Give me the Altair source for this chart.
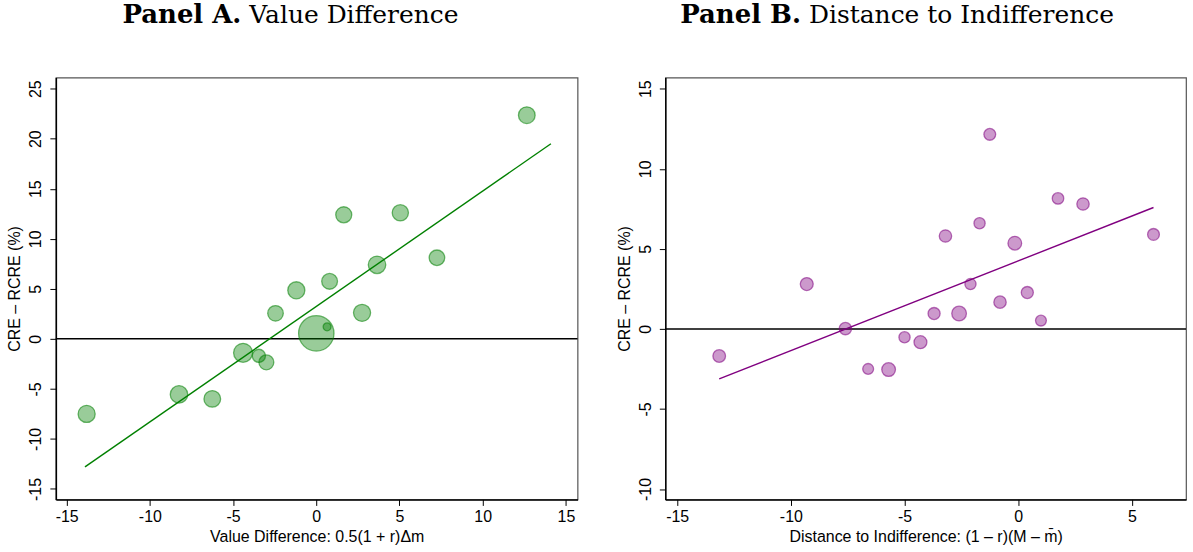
import altair as alt
import pandas as pd

# ---------------- Panel A: Value Difference ----------------
a_x = [-13.8, -8.25, -6.25, -4.4, -3.45, -3.0, -2.45, -1.2, 0.0, 0.65, 0.8, 1.65, 2.75, 3.65, 5.05, 7.25, 12.65]
a_y = [-7.5, -5.55, -6.0, -1.4, -1.7, -2.35, 2.55, 4.85, 0.55, 1.2, 5.75, 12.4, 2.6, 7.4, 12.6, 8.1, 22.35]
a_w = [42, 44, 40, 52, 25, 32, 35, 42, 180, 9, 36, 37, 42, 44, 38, 35, 40]
a_fit_x = [-13.9, 14.1]
a_fit_y = [-12.8, 19.5]
a_xticks = [-15, -10, -5, 0, 5, 10, 15]
a_yticks = [-15, -10, -5, 0, 5, 10, 15, 20, 25]

# ---------------- Panel B: Distance to Indifference ----------------
b_x = [-1.25, 1.75, 2.85, -1.7, -3.2, -0.15, 5.95, -9.3, -2.1, 0.4, -0.8, -3.7, -2.6, 1.0, -7.6, -5.0, -4.3, -13.15, -6.6, -5.7]
b_y = [12.15, 8.15, 7.8, 6.6, 5.8, 5.35, 5.9, 2.8, 2.8, 2.27, 1.67, 0.96, 0.96, 0.52, 0.02, -0.52, -0.83, -1.69, -2.5, -2.54]
b_w = [20, 19, 22, 18, 22, 27, 20, 24, 18, 21, 22, 21, 31, 17, 22, 18, 24, 23, 17, 27]
b_fit_x = [-13.15, 5.95]
b_fit_y = [-3.12, 7.58]
b_xticks = [-15, -10, -5, 0, 5]
b_yticks = [-10, -5, 0, 5, 10, 15]

Y_TITLE = "CRE \u2013 RCRE (%)"
LABEL_EXPR = "'' + datum.value"
AX = dict(grid=False, domainColor="black", domainWidth=1.5, tickColor="black",
          tickSize=6, tickWidth=1, labelFont="Liberation Sans", labelFontSize=16,
          labelColor="black", titleFont="Liberation Sans", titleFontSize=16,
          titleFontWeight="normal", titleColor="black", labelFlush=False)


def panel(xs, ys, ws, fx, fy, color, fill, xdom, ydom, xticks, yticks, xtitle,
          bold, rest, bold_right, rest_left, width, height):
    pts = pd.DataFrame({"x": xs, "y": ys, "w": ws})
    fit = pd.DataFrame({"x": fx, "y": fy})
    xsc = alt.Scale(domain=xdom, nice=False, zero=False)
    ysc = alt.Scale(domain=ydom, nice=False, zero=False)
    xax = alt.Axis(values=xticks, title=xtitle, labelExpr=LABEL_EXPR,
                   labelPadding=3, titlePadding=4, **AX)
    yax = alt.Axis(values=yticks, title=Y_TITLE, labelExpr=LABEL_EXPR,
                   labelAngle=270, labelPadding=6, titlePadding=5, **AX)
    X = lambda: alt.X("x:Q", scale=xsc, axis=xax)
    Y = lambda: alt.Y("y:Q", scale=ysc, axis=yax)

    zero = alt.Chart(pd.DataFrame({"y": [0]})).mark_rule(
        color="black", strokeWidth=1.5).encode(y=Y())
    dots = alt.Chart(pts).mark_circle(
        fill=fill, stroke=color, fillOpacity=0.4, strokeOpacity=0.55,
        strokeWidth=1.3, opacity=1).encode(
        x=X(), y=Y(),
        size=alt.Size("w:Q", scale=alt.Scale(domain=[0, 180], range=[0, 1260]), legend=None))
    line = alt.Chart(fit).mark_line(color=color, strokeWidth=1.4).encode(x=X(), y=Y())
    t1 = alt.Chart(pd.DataFrame({"t": [bold]})).mark_text(
        font="DejaVu Serif", fontSize=26, fontWeight="bold", align="right",
        baseline="alphabetic", color="black").encode(
        x=alt.value(bold_right), y=alt.value(-55), text="t:N")
    t2 = alt.Chart(pd.DataFrame({"t": [rest]})).mark_text(
        font="DejaVu Serif", fontSize=25, fontWeight="normal", align="left",
        baseline="alphabetic", color="black").encode(
        x=alt.value(rest_left), y=alt.value(-55), text="t:N")
    return alt.layer(zero, dots, line, t1, t2).properties(width=width, height=height)


pa = panel(a_x, a_y, a_w, a_fit_x, a_fit_y, "#008000", "#008000",
           [-15.65, 15.7], [-16.05, 26.12], a_xticks, a_yticks,
           "Value Difference: 0.5(1 + r)\u0394m",
           "Panel A.", "Value Difference", 186, 194, 523, 423)
pb = panel(b_x, b_y, b_w, b_fit_x, b_fit_y, "#800080", "#800080",
           [-15.52, 7.38], [-10.65, 15.7], b_xticks, b_yticks,
           "Distance to Indifference: (1 \u2013 r)(M \u2013 m\u0304)",
           "Panel B.", "Distance to Indifference", 136, 144, 522, 423)

chart = alt.hconcat(pa, pb, spacing=36).properties(
    padding={"left": 6, "top": 0, "right": 5, "bottom": 5}
).configure(
    background="white"
).configure_view(
    stroke="#555555", strokeWidth=1.2
)

chart.save("out.html", embed_options={"renderer": "svg", "actions": False})
